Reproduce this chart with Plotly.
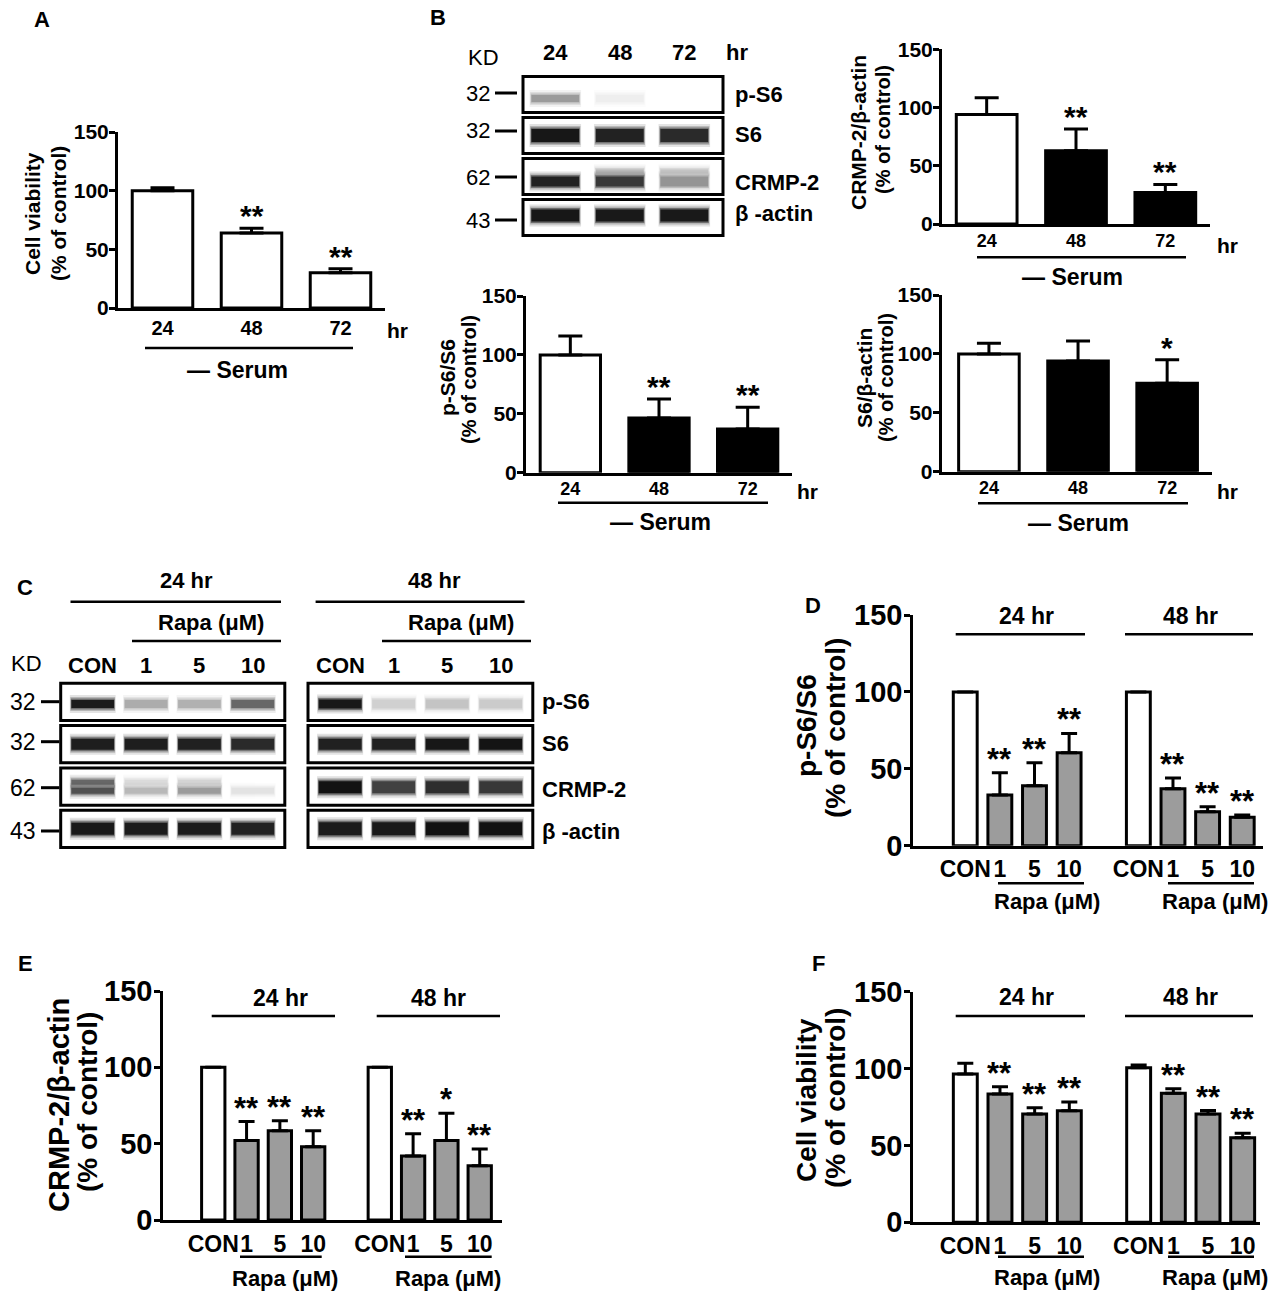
import plotly.graph_objects as go

W, H = 1280, 1300
FONT = "Liberation Sans, Arial, sans-serif"
GREY = "#9c9c9c"

# ---------------- data ----------------
# Panel A: cell viability after serum withdrawal
serum_hours = ["24", "48", "72"]
a_mean = [100, 64, 30]
a_sem = [2.5, 4, 3.5]
a_sig = ["", "**", "**"]

# Panel B: blot band strengths (0 = nothing, 1 = saturated)
b_kd = ["32", "32", "62", "43"]
b_proteins = ["p-S6", "S6", "CRMP-2", "β -actin"]
b_band_ps6 = [0.42, 0.07, 0.0]
b_band_s6 = [0.98, 0.93, 0.9]
b_band_crmp = [0.93, 0.84, 0.45]
b_band_crmp_upper = [0.0, 0.3, 0.25]
b_band_actin = [0.98, 0.97, 0.97]

# Panel B: quantification
b_crmp_mean = [94, 63, 27]
b_crmp_sem = [14.5, 18.5, 7]
b_crmp_sig = ["", "**", "**"]
b_ps6_mean = [100, 46.5, 37]
b_ps6_sem = [16, 16, 18.5]
b_ps6_sig = ["", "**", "**"]
b_s6_mean = [100, 94, 75]
b_s6_sem = [9, 17, 20]
b_s6_sig = ["", "", "*"]

# Panel C: blot band strengths, lanes CON / 1 / 5 / 10 uM rapamycin
rapa_lanes = ["CON", "1", "5", "10"]
c_kd = ["32", "32", "62", "43"]
c24_ps6 = [0.96, 0.35, 0.33, 0.64]
c24_s6 = [0.95, 0.95, 0.94, 0.9]
c24_crmp = [0.74, 0.3, 0.42, 0.12]
c24_crmp_upper = [0.64, 0.15, 0.18, 0.0]
c24_actin = [0.97, 0.96, 0.96, 0.93]
c48_ps6 = [0.97, 0.2, 0.25, 0.22]
c48_s6 = [0.94, 0.94, 0.98, 0.99]
c48_crmp = [1.0, 0.8, 0.88, 0.84]
c48_actin = [0.96, 0.97, 1.0, 1.0]

# Panels D-F: quantification, 24 hr group then 48 hr group
d24_mean = [100, 33, 39, 60.5]
d24_sem = [0, 14.5, 15, 12.5]
d24_sig = ["", "**", "**", "**"]
d48_mean = [100, 37, 22, 18.5]
d48_sem = [0, 7, 3.3, 1.5]
d48_sig = ["", "**", "**", "**"]

e24_mean = [100, 52, 58.5, 48]
e24_sem = [0, 12.5, 6.5, 10.5]
e24_sig = ["", "**", "**", "**"]
e48_mean = [100, 42, 52, 35.5]
e48_sem = [0, 14.5, 18, 11]
e48_sig = ["", "**", "*", "**"]

f24_mean = [96.5, 83.5, 70.5, 72.5]
f24_sem = [7, 4.7, 4, 5.8]
f24_sig = ["", "**", "**", "**"]
f48_mean = [100.5, 84, 70.5, 55]
f48_sem = [1.8, 2.8, 2.2, 2.9]
f48_sig = ["", "**", "**", "**"]


# ---------------- helpers ----------------
def px(x):
    return x / W


def py(y):
    return 1 - y / H


def ax_names(n):
    if n == 1:
        return "x", "y", "xaxis", "yaxis"
    return f"x{n}", f"y{n}", f"xaxis{n}", f"yaxis{n}"


fig = go.Figure()
annotations = []
shapes = []


def text(s, x, y, size, bold=True, xanchor="center", angle=0):
    annotations.append(dict(
        text=s, x=px(x), y=py(y), xref="paper", yref="paper", showarrow=False,
        xanchor=xanchor, yanchor="middle", textangle=angle,
        font=dict(family=FONT, size=size, color="black",
                  weight="bold" if bold else "normal")))


def hline(x0, x1, y, width=2.5):
    shapes.append(dict(type="line", xref="paper", yref="paper",
                       x0=px(x0), x1=px(x1), y0=py(y), y1=py(y),
                       line=dict(color="black", width=width)))


def bar_panel(n, xd, yd, xpos, xlabels, means, sems, sigs, colors, xrange,
              ytick_size, xtick_size, star_size, bar_w, cap, standoff):
    xa, ya, xk, yk = ax_names(n)
    fig.add_trace(go.Bar(
        x=xpos, y=means, width=bar_w, xaxis=xa, yaxis=ya,
        marker=dict(color=colors, line=dict(color="black", width=3)),
        error_y=dict(type="data", symmetric=False, array=sems,
                     arrayminus=[0] * len(sems), color="black",
                     thickness=3, width=cap)))
    fig.update_layout(**{
        xk: dict(domain=[px(xd[0]), px(xd[1])], range=xrange, anchor=ya,
                 showline=True, linewidth=3, linecolor="black", ticks="",
                 tickvals=xpos, ticktext=xlabels, showgrid=False,
                 zeroline=False, ticklabelstandoff=standoff, tickangle=0,
                 automargin=False,
                 tickfont=dict(family=FONT, size=xtick_size, color="black",
                               weight="bold")),
        yk: dict(domain=[py(yd[1]), py(yd[0])], range=[0, 150], anchor=xa,
                 showline=True, linewidth=3, linecolor="black",
                 ticks="outside", ticklen=6, tickwidth=3, tickcolor="black",
                 tickvals=[0, 50, 100, 150], showgrid=False, zeroline=False,
                 automargin=False, ticklabelstandoff=-4,
                 tickfont=dict(family=FONT, size=ytick_size, color="black",
                               weight="bold")),
    })
    for x, m, s, sig in zip(xpos, means, sems, sigs):
        if sig:
            annotations.append(dict(
                text=sig, x=x, y=m + s, xref=xa, yref=ya, showarrow=False,
                yanchor="bottom", yshift=-6,
                font=dict(family=FONT, size=star_size, color="black",
                          weight="bold")))


def band_color(v):
    g = int(round(255 * (1 - 0.93 * v)))
    return f"rgb({g},{g},{g})"


def blot_panel(n, xd, yd, xrange, rows, halfw):
    xa, ya, xk, yk = ax_names(n)
    fig.update_layout(**{
        xk: dict(domain=[px(xd[0]), px(xd[1])], range=xrange, anchor=ya,
                 visible=False, automargin=False),
        yk: dict(domain=[py(yd[1]), py(yd[0])], range=[4, 0], anchor=xa,
                 visible=False, automargin=False),
    })
    for i, bands in enumerate(rows):
        shapes.append(dict(type="rect", xref=f"{xa} domain", yref=ya,
                           x0=0, x1=1, y0=i + 0.06, y1=i + 0.94,
                           fillcolor="white", layer="below",
                           line=dict(color="black", width=3)))
        for vals, off, thick in bands:
            for lane, v in enumerate(vals, start=1):
                if v <= 0:
                    continue
                ys = [i + off, i + off]
                # soft edges: a few wider, fainter strokes under the core
                for extra, op, shrink in [(10, 0.12, 0.0), (6, 0.22, 0.01),
                                          (3, 0.45, 0.02), (0, 1.0, 0.03)]:
                    fig.add_trace(go.Scatter(
                        x=[lane - halfw + shrink, lane + halfw - shrink],
                        y=ys, mode="lines", xaxis=xa, yaxis=ya,
                        opacity=op, hoverinfo="skip",
                        line=dict(color=band_color(v), width=thick + extra)))


# ---------------- panel A ----------------
bar_panel(1, (118, 385), (132, 308), [0, 1, 2], serum_hours, a_mean, a_sem,
          a_sig, ["white"] * 3, [-0.5, 2.5], 21, 20, 30, 0.68, 12, 0)
text("A", 42, 20, 22)
text("Cell viability", 32, 214, 21, angle=-90)
text("(% of control)", 58, 214, 21, angle=-90)
text("hr", 397, 330, 21)
hline(145, 353, 348)
text("— Serum", 237, 370, 23)

# ---------------- panel B ----------------
text("B", 438, 18, 22)
b_rows = [
    [(b_band_ps6, 0.6, 7)],
    [(b_band_s6, 0.5, 13)],
    [(b_band_crmp_upper, 0.38, 4), (b_band_crmp, 0.62, 10)],
    [(b_band_actin, 0.45, 12)],
]
blot_panel(8, (523, 723), (74, 238), [0.5, 3.6], b_rows, 0.4)
text("KD", 483, 58, 22, bold=False)
for j, lab in enumerate(serum_hours, start=1):
    annotations.append(dict(text=lab, x=j, y=py(52), xref="x8", yref="paper",
                            showarrow=False, yanchor="middle",
                            font=dict(family=FONT, size=22, color="black",
                                      weight="bold")))
text("hr", 737, 52, 22)
for kd, prot, yk, yl in zip(b_kd, b_proteins, [93, 131, 177, 220],
                            [95, 135, 183, 213]):
    text(kd, 492, yk, 22, bold=False, xanchor="right")
    hline(495, 517, yk, 3)
    text(prot, 733, yl, 22, xanchor="left")

bar_panel(2, (942, 1210), (49.3, 224), [0, 1, 2], serum_hours, b_crmp_mean,
          b_crmp_sem, b_crmp_sig, ["white", "black", "black"], [-0.5, 2.5],
          21, 18, 30, 0.68, 12, -2)
text("CRMP-2/β-actin", 858, 133, 21, angle=-90)
text("(% of control)", 883, 130, 20, angle=-90)
text("hr", 1227, 245, 21)
hline(977, 1186, 257.3)
text("— Serum", 1072, 277, 23)

bar_panel(3, (526, 792), (296, 472.7), [0, 1, 2], serum_hours, b_ps6_mean,
          b_ps6_sem, b_ps6_sig, ["white", "black", "black"], [-0.5, 2.5],
          21, 18, 30, 0.68, 12, -2)
text("p-S6/S6", 447, 378, 21, angle=-90)
text("(% of control)", 469, 380, 20, angle=-90)
text("hr", 807, 491, 21)
hline(558, 768, 502.7)
text("— Serum", 660, 522, 23)

bar_panel(4, (941.7, 1211.7), (295, 471.7), [0, 1, 2], serum_hours,
          b_s6_mean, b_s6_sem, b_s6_sig, ["white", "black", "black"],
          [-0.53, 2.5], 21, 18, 30, 0.68, 12, -2)
text("S6/β-actin", 864, 378, 21, angle=-90)
text("(% of control)", 886, 378, 20, angle=-90)
text("hr", 1227, 491, 21)
hline(978, 1188, 503.3)
text("— Serum", 1078, 523, 23)

# ---------------- panel C ----------------
text("C", 25, 587, 22)
c24_rows = [
    [(c24_ps6, 0.55, 8)],
    [(c24_s6, 0.5, 11)],
    [(c24_crmp_upper, 0.4, 5), (c24_crmp, 0.6, 6)],
    [(c24_actin, 0.5, 12)],
]
c48_rows = [
    [(c48_ps6, 0.55, 9)],
    [(c48_s6, 0.5, 11)],
    [(c48_crmp, 0.52, 12)],
    [(c48_actin, 0.5, 13)],
]
blot_panel(9, (60.7, 284.8), (680.7, 850), [0.4, 4.6], c24_rows, 0.43)
blot_panel(10, (308, 532.8), (680.7, 850), [0.4, 4.6], c48_rows, 0.43)
text("24 hr", 186.5, 580, 22)
text("48 hr", 434, 580, 22)
hline(70.5, 281, 601.7)
hline(315.6, 524.6, 601.7)
text("Rapa (μM)", 211, 622, 22)
text("Rapa (μM)", 461, 622, 22)
hline(132, 281, 641)
hline(382, 531, 641)
text("KD", 26.6, 663, 22, bold=False)
for xa in ["x9", "x10"]:
    for j, lab in enumerate(rapa_lanes, start=1):
        annotations.append(dict(text=lab, x=j, y=py(665), xref=xa,
                                yref="paper", showarrow=False,
                                yanchor="middle",
                                font=dict(family=FONT, size=22, color="black",
                                          weight="bold")))
for kd, prot, yk, yl in zip(c_kd, b_proteins, [701.7, 741.7, 787.7, 831],
                            [701.7, 743, 790, 831.7]):
    text(kd, 38, yk, 23, bold=False, xanchor="right")
    hline(41, 59.4, yk, 3)
    text(prot, 540, yl, 22, xanchor="left")

# ---------------- panels D, E, F ----------------
group_pos = [0, 1, 2, 3, 5, 6, 7, 8]
group_labels = rapa_lanes + rapa_lanes
group_colors = ["white", GREY, GREY, GREY] * 2

bar_panel(5, (913.3, 1263), (615, 845.7), group_pos, group_labels,
          d24_mean + d48_mean, d24_sem + d48_sem, d24_sig + d48_sig,
          group_colors, [-1.5, 8.6], 29, 23, 31, 0.69, 8, 1)
text("D", 813, 605, 22)
text("p-S6/S6", 806, 726, 28, angle=-90)
text("(% of control)", 835, 728, 28, angle=-90)
text("24 hr", 1026.7, 616, 23)
text("48 hr", 1190, 616, 23)
hline(955.7, 1085, 634.3)
hline(1125, 1253, 634.3)
hline(998, 1084, 883.3)
hline(1168, 1254, 883.3)
text("Rapa (μM)", 1046.7, 901.7, 22)
text("Rapa (μM)", 1215, 901.7, 22)

bar_panel(6, (163.3, 501.7), (991, 1220), group_pos, group_labels,
          e24_mean + e48_mean, e24_sem + e48_sem, e24_sig + e48_sig,
          group_colors, [-1.5, 8.66], 29, 23, 31, 0.7, 8, 1)
text("E", 25, 963, 22)
text("CRMP-2/β-actin", 59, 1105, 29, angle=-90)
text("(% of control)", 87, 1102, 28, angle=-90)
text("24 hr", 280, 998.3, 23)
text("48 hr", 438.3, 998.3, 23)
hline(211.7, 335, 1016)
hline(376.7, 500, 1016)
hline(240, 321.7, 1256.7)
hline(405, 491.7, 1256.7)
text("Rapa (μM)", 285, 1278.3, 22)
text("Rapa (μM)", 448.3, 1278.3, 22)

bar_panel(7, (913.3, 1260), (991.7, 1222.3), group_pos, group_labels,
          f24_mean + f48_mean, f24_sem + f48_sem, f24_sig + f48_sig,
          group_colors, [-1.5, 8.5], 29, 23, 31, 0.69, 8, 1)
text("F", 818, 963, 22)
text("Cell viability", 806, 1100, 28, angle=-90)
text("(% of control)", 835, 1098, 28, angle=-90)
text("24 hr", 1026.7, 997.3, 23)
text("48 hr", 1190, 997.3, 23)
hline(955.7, 1085, 1016)
hline(1125, 1253, 1016)
hline(998, 1084, 1256.7)
hline(1168, 1254, 1256.7)
text("Rapa (μM)", 1046.7, 1277.3, 22)
text("Rapa (μM)", 1215, 1277.3, 22)

fig.update_layout(
    width=W, height=H,
    margin=dict(l=0, r=0, t=0, b=0, pad=0, autoexpand=False),
    paper_bgcolor="white", plot_bgcolor="rgba(0,0,0,0)",
    showlegend=False, font=dict(family=FONT, color="black"),
    annotations=annotations, shapes=shapes,
)

fig.write_html("out.html", config={"displayModeBar": False},
               post_script="document.body.style.margin='0px';")
